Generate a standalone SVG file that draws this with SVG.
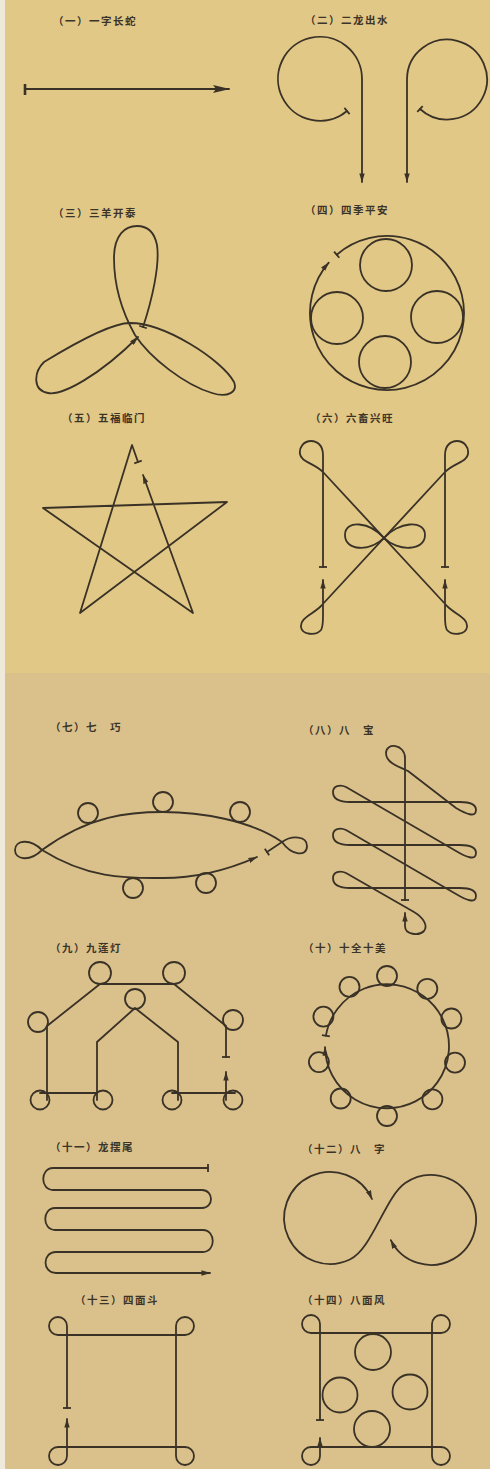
<svg xmlns="http://www.w3.org/2000/svg" width="490" height="1469" viewBox="0 0 490 1469">
<style>
.ln{fill:none;stroke:#3a3226;stroke-width:1.8;stroke-linecap:round;stroke-linejoin:round}
.t{font-family:"Noto Sans CJK SC","Noto Sans CJK JP",sans-serif;font-size:10.5px;font-weight:700;fill:#3d3428;letter-spacing:1.5px}
</style>
<defs>
<marker id="ah" viewBox="0 0 10 6" refX="9.5" refY="3" markerWidth="9" markerHeight="5.4" markerUnits="userSpaceOnUse" orient="auto"><path d="M0,0 L10,3 L0,6 z" fill="#3a3226"/></marker>
<marker id="ahs" viewBox="0 0 10 6" refX="9.5" refY="3" markerWidth="9" markerHeight="5.4" markerUnits="userSpaceOnUse" orient="auto-start-reverse"><path d="M0,0 L10,3 L0,6 z" fill="#3a3226"/></marker>
<marker id="ahBig" viewBox="0 0 17 8" refX="16" refY="4" markerWidth="17" markerHeight="8" markerUnits="userSpaceOnUse" orient="auto"><path d="M0,0 L17,4 L0,8 L3,4 z" fill="#3a3226"/></marker>
<marker id="tick" viewBox="0 0 2 8" refX="1" refY="4" markerWidth="2" markerHeight="8" markerUnits="userSpaceOnUse" orient="auto" overflow="visible"><path d="M1,0 V8" stroke="#3a3226" stroke-width="1.8"/></marker>
</defs>
<rect x="0" y="0" width="490" height="1469" fill="#efe9dc"/>
<rect x="5" y="0" width="485" height="673" fill="#e1c887"/>
<rect x="5" y="673" width="485" height="796" fill="#dac18b"/>

<g id="fig1">
<text class="t" x="53" y="25">（一）一字长蛇</text>
<path class="ln" d="M25 89 L229 89" marker-end="url(#ahBig)"/>
<path d="M25 84 V95" stroke="#3a3226" stroke-width="2.6"/>
</g>

<g id="fig2">
<text class="t" x="305" y="24">（二）二龙出水</text>
<path class="ln" d="M347 111 A42 42 0 1 1 362 79 L362 182" marker-start="url(#tick)" marker-end="url(#ah)"/>
<path class="ln" d="M420 109 A40 40 0 1 0 407 79 L407 182" marker-start="url(#tick)" marker-end="url(#ah)"/>
</g>

<g id="fig3">
<text class="t" x="53" y="217">（三）三羊开泰</text>
<path class="ln" d="M143 327 C152 300,160 265,157 245 C154 230,146 226,137 226 C125 226,114 235,114 258 C114 285,122 312,135 335 C150 358,185 385,212 393 C228 398,238 392,234 382 C222 360,165 323,130 323 C112 323,80 340,44 362 C34 372,32 390,48 393 C62 396,100 375,138 337" marker-start="url(#tick)" marker-end="url(#ah)"/>
</g>

<g id="fig4">
<text class="t" x="305" y="214">（四）四季平安</text>
<path class="ln" d="M336.7 254.7 A77 77 0 1 1 328.7 262.7" marker-start="url(#tick)" marker-end="url(#ah)"/>
<circle class="ln" cx="386" cy="265" r="26"/>
<circle class="ln" cx="337" cy="318" r="26"/>
<circle class="ln" cx="437" cy="317" r="26"/>
<circle class="ln" cx="385" cy="362" r="26"/>
</g>

<g id="fig5">
<text class="t" x="62" y="422">（五）五福临门</text>
<path class="ln" d="M138 462 L132 445 L80 613 L227 502 L43 508 L193 613 L143 475" marker-start="url(#tick)" marker-end="url(#ah)"/>
</g>

<g id="fig6">
<text class="t" x="310" y="422">（六）六畜兴旺</text>
<path class="ln" d="M323 567 L323 455 C323 445,317 441,311 441 C304 441,299 447,300 454 C301 462,314 463,323 472 L447 606 C456 615,468 618,467 627 C466 635,452 636,447 630 C445 627,445 622,445 616 L445 580" marker-start="url(#tick)" marker-end="url(#ah)"/>
<path class="ln" d="M445 567 L445 455 C445 445,451 441,457 441 C464 441,469 447,468 454 C467 462,454 463,445 472 L321 606 C312 615,300 618,301 627 C302 635,316 636,321 630 C323 627,323 622,323 616 L323 580" marker-start="url(#tick)" marker-end="url(#ah)"/>
<path class="ln" d="M384 538 C370 522,345 519,345 535 C345 551,370 552,384 538 C398 522,425 519,425 535 C425 551,398 552,384 538 Z"/>
</g>

<g id="fig7">
<text class="t" x="50" y="731">（七）七　巧</text>
<path class="ln" d="M267 852 L282 842 C292 835,307 836,307 846 C307 857,292 856,282 842 C250 820,200 812,163 812 C130 812,90 815,42 850 C30 838,15 840,15 850 C15 860,30 862,42 850 C90 880,130 878,163 878 C200 878,232 868,257 857" marker-start="url(#tick)" marker-end="url(#ah)"/>
<circle class="ln" cx="88" cy="813" r="10"/>
<circle class="ln" cx="163" cy="802" r="10"/>
<circle class="ln" cx="240" cy="812" r="10"/>
<circle class="ln" cx="133" cy="888" r="10"/>
<circle class="ln" cx="206" cy="883" r="10"/>
</g>

<g id="fig8">
<text class="t" x="303" y="734">（八）八　宝</text>
<path class="ln" d="M405 900 L405 758 C405 744,386 742,386 753 C386 762,396 766,408 771 L456 808 C466 814,476 818,476 810 C476 804,470 802,460 802 L350 802 C338 802,333 798,333 792 C333 786,340 784,346 787 L456 851 C466 857,476 861,476 853 C476 847,470 845,460 845 L350 845 C338 845,333 841,333 835 C333 829,340 827,346 830 L456 894 C466 900,476 904,476 896 C476 890,470 888,460 888 L350 888 C338 888,333 884,333 878 C333 872,340 870,346 873 L414 912 C424 918,428 926,424 931 C419 936,405 935,405 926 L405 913" marker-start="url(#tick)" marker-end="url(#ah)"/>
</g>

<g id="fig9">
<text class="t" x="50" y="952">（九）九莲灯</text>
<path class="ln" d="M226 1057 L226 1026 L174 984 L100 984 L47 1026 L47 1100" marker-start="url(#tick)"/>
<path class="ln" d="M40 1093 L97 1093"/>
<path class="ln" d="M97 1100 L97 1042 L135 1008 L178 1042 L178 1100"/>
<path class="ln" d="M172 1093 L235 1093"/>
<path class="ln" d="M226 1100 L226 1072" marker-end="url(#ah)"/>
<circle class="ln" cx="100" cy="973" r="11"/>
<circle class="ln" cx="174" cy="973" r="11"/>
<circle class="ln" cx="135" cy="999" r="10"/>
<circle class="ln" cx="38" cy="1022" r="10"/>
<circle class="ln" cx="233" cy="1020" r="10"/>
<circle class="ln" cx="40" cy="1100" r="9.5"/>
<circle class="ln" cx="103" cy="1100" r="9.5"/>
<circle class="ln" cx="172" cy="1100" r="9.5"/>
<circle class="ln" cx="233" cy="1100" r="9.5"/>
</g>

<g id="fig10">
<text class="t" x="303" y="952">（十）十全十美</text>
<path class="ln" d="M325.9 1035.7 A62 62 0 1 1 325.0 1047.1" marker-start="url(#tick)" marker-end="url(#ah)"/>
<circle class="ln" cx="387" cy="976" r="10"/>
<circle class="ln" cx="349.5" cy="986.9" r="10"/>
<circle class="ln" cx="427.3" cy="988.8" r="10"/>
<circle class="ln" cx="451.4" cy="1018.5" r="10"/>
<circle class="ln" cx="455" cy="1062.6" r="10"/>
<circle class="ln" cx="432.4" cy="1099.3" r="10"/>
<circle class="ln" cx="387" cy="1116" r="10"/>
<circle class="ln" cx="340.7" cy="1098.5" r="10"/>
<circle class="ln" cx="318.9" cy="1062.1" r="10"/>
<circle class="ln" cx="323.4" cy="1016.6" r="10"/>
</g>

<g id="fig11">
<text class="t" x="50" y="1151">（十一）龙摆尾</text>
<path class="ln" d="M208 1168 L53 1168 C40 1168,40 1190,53 1190 L202 1190 C214 1190,214 1208,202 1208 L55 1208 C42 1208,42 1230,55 1230 L203 1230 C216 1230,216 1252,203 1252 L56 1252 C42 1252,42 1273,56 1273 L210 1273" marker-start="url(#tick)" marker-end="url(#ah)"/>
</g>

<g id="fig12">
<text class="t" x="302" y="1153">（十二）八　字</text>
<path class="ln" d="M372 1199 A46 46 0 1 0 349.8 1259.5 C372.4 1248.8,384.7 1197.5,405.2 1183.1 A45 45 0 1 1 390.8 1240.1" marker-start="url(#ahs)" marker-end="url(#ah)"/>
</g>

<g id="fig13">
<text class="t" x="75" y="1304">（十三）四面斗</text>
<path class="ln" d="M67 1408 L67 1326 A9 9 0 1 0 58 1335 L185 1335 A9 9 0 1 0 176 1326 L176 1456 A9 9 0 1 0 185 1447 L58 1447 A9 9 0 1 0 67 1456 L67 1419" marker-start="url(#tick)" marker-end="url(#ah)"/>
</g>

<g id="fig14">
<text class="t" x="302" y="1304">（十四）八面风</text>
<path class="ln" d="M320 1420 L320 1324 A9 9 0 1 0 311 1333 L441 1333 A9 9 0 1 0 432 1324 L432 1456 A9 9 0 1 0 441 1447 L311 1447 A9 9 0 1 0 320 1456 L320 1438" marker-start="url(#tick)" marker-end="url(#ah)"/>
<circle class="ln" cx="373" cy="1352" r="18"/>
<circle class="ln" cx="340" cy="1395" r="17.5"/>
<circle class="ln" cx="410" cy="1392" r="17.5"/>
<circle class="ln" cx="372" cy="1429" r="18"/>
</g>
</svg>
